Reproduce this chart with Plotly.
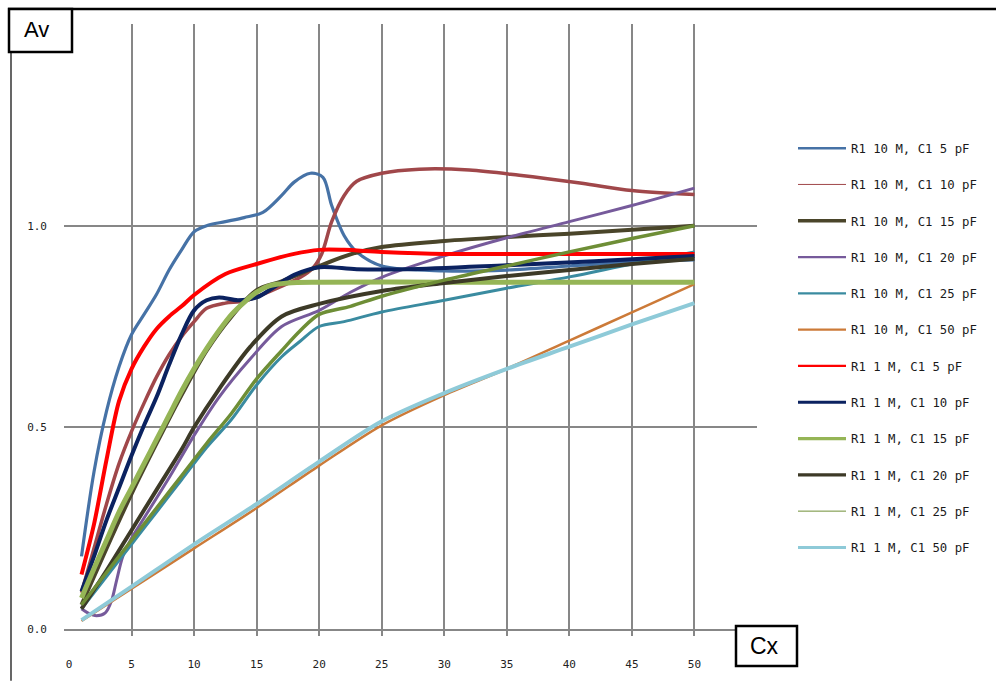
import plotly.graph_objects as go

# ---- measured gain Av versus Cx (pF) ----
names = [
    "R1 10 M, C1 5 pF", "R1 10 M, C1 10 pF", "R1 10 M, C1 15 pF",
    "R1 10 M, C1 20 pF", "R1 10 M, C1 25 pF", "R1 10 M, C1 50 pF",
    "R1 1 M, C1 5 pF", "R1 1 M, C1 10 pF", "R1 1 M, C1 15 pF",
    "R1 1 M, C1 20 pF", "R1 1 M, C1 25 pF", "R1 1 M, C1 50 pF",
]

x_10m_c5 = [1, 2, 3, 4, 5, 6, 7, 8, 9, 10, 11, 12.5, 14, 15.5, 17, 18, 19.3, 20.3, 21, 22, 23, 25, 30, 35, 40, 45, 50]
y_10m_c5 = [0.18, 0.39, 0.54, 0.65, 0.73, 0.78, 0.83, 0.89, 0.94, 0.985, 1.0, 1.01, 1.02, 1.033, 1.075, 1.108, 1.13, 1.12, 1.05, 0.975, 0.935, 0.9, 0.888, 0.89, 0.9, 0.91, 0.915]

x_10m_c10 = [1, 2, 3, 4, 5, 6, 7, 8, 9, 10, 11, 12.5, 14, 16.5, 18.5, 19.5, 20.2, 21, 22, 23, 25, 28, 32, 36, 41, 45, 50]
y_10m_c10 = [0.09, 0.2, 0.31, 0.41, 0.49, 0.56, 0.625, 0.68, 0.725, 0.762, 0.795, 0.808, 0.813, 0.843, 0.872, 0.895, 0.93, 1.01, 1.075, 1.11, 1.13, 1.14, 1.138, 1.125, 1.105, 1.087, 1.077]

x_10m_c15 = [1, 3, 5, 7, 9, 11, 13, 15, 17, 20, 22.5, 25, 30, 35, 40, 45, 50]
y_10m_c15 = [0.06, 0.2, 0.335, 0.46, 0.58, 0.69, 0.775, 0.84, 0.862, 0.9, 0.929, 0.947, 0.962, 0.972, 0.98, 0.99, 1.0]

x_10m_c20 = [1, 1.5, 2.2, 2.9, 3.4, 3.8, 4.3, 5, 6, 8, 10, 12, 14.5, 17, 20, 22.5, 25, 30, 35, 40, 45, 50]
y_10m_c20 = [0.05, 0.04, 0.033, 0.04, 0.07, 0.12, 0.18, 0.225, 0.275, 0.375, 0.48, 0.575, 0.67, 0.75, 0.79, 0.835, 0.872, 0.925, 0.97, 1.01, 1.05, 1.093]

x_10m_c25 = [1, 3, 5, 7, 9, 11, 13, 15, 17, 18.5, 20, 22, 25, 30, 35, 40, 45, 50]
y_10m_c25 = [0.05, 0.13, 0.21, 0.29, 0.37, 0.45, 0.52, 0.605, 0.675, 0.714, 0.75, 0.762, 0.786, 0.815, 0.845, 0.873, 0.905, 0.935]

x_10m_c50 = [1, 5, 10, 15, 20, 25, 30, 35, 40, 45, 50]
y_10m_c50 = [0.02, 0.1, 0.2, 0.3, 0.405, 0.505, 0.58, 0.645, 0.715, 0.785, 0.855]

x_1m_c5 = [1, 2, 3, 4, 5, 6, 7, 8, 9, 10, 12.5, 15, 18, 20, 22, 25, 30, 40, 50]
y_1m_c5 = [0.135, 0.26, 0.42, 0.565, 0.645, 0.70, 0.744, 0.775, 0.80, 0.828, 0.88, 0.905, 0.93, 0.94, 0.94, 0.935, 0.93, 0.93, 0.93]

x_1m_c10 = [1, 2, 3, 4, 5, 6, 7, 8, 9, 10, 11, 12, 13.5, 15, 16.5, 18, 20, 23, 27, 35, 42, 50]
y_1m_c10 = [0.093, 0.18, 0.27, 0.35, 0.43, 0.505, 0.575, 0.655, 0.73, 0.79, 0.815, 0.822, 0.815, 0.822, 0.85, 0.878, 0.897, 0.892, 0.892, 0.902, 0.912, 0.925]

x_1m_c15 = [1, 2, 3, 4, 5, 6, 7, 8, 9, 10, 11, 12, 13, 14, 15, 16, 17.5, 20, 30, 40, 50]
y_1m_c15 = [0.077, 0.15, 0.22, 0.29, 0.35, 0.41, 0.47, 0.53, 0.59, 0.645, 0.695, 0.74, 0.78, 0.81, 0.835, 0.851, 0.858, 0.86, 0.86, 0.86, 0.86]

x_1m_c20 = [1, 3, 5, 7, 9, 10, 12, 14.5, 17, 20, 25, 30, 35, 40, 45, 50]
y_1m_c20 = [0.05, 0.145, 0.245, 0.345, 0.445, 0.5, 0.595, 0.70, 0.775, 0.806, 0.838, 0.858, 0.875, 0.89, 0.905, 0.918]

x_1m_c25 = [1, 3, 5, 7, 9, 11, 13, 15, 17, 18.5, 20, 22.5, 25, 30, 35, 40, 45, 50]
y_1m_c25 = [0.06, 0.14, 0.22, 0.3, 0.38, 0.46, 0.535, 0.62, 0.69, 0.74, 0.78, 0.80, 0.825, 0.865, 0.9, 0.935, 0.968, 1.0]

x_1m_c50 = [1, 5, 10, 15, 20, 25, 30, 35, 40, 45, 50]
y_1m_c50 = [0.022, 0.105, 0.21, 0.31, 0.415, 0.515, 0.585, 0.645, 0.70, 0.755, 0.808]

xs = [x_10m_c5, x_10m_c10, x_10m_c15, x_10m_c20, x_10m_c25, x_10m_c50,
      x_1m_c5, x_1m_c10, x_1m_c15, x_1m_c20, x_1m_c25, x_1m_c50]
ys = [y_10m_c5, y_10m_c10, y_10m_c15, y_10m_c20, y_10m_c25, y_10m_c50,
      y_1m_c5, y_1m_c10, y_1m_c15, y_1m_c20, y_1m_c25, y_1m_c50]

colors = ["#4672A6", "#A0474A", "#4A452A", "#765A9B", "#3A8BA0", "#CC7A38",
          "#FF0000", "#0B2260", "#95B556", "#3D3A27", "#6E8E36", "#8ECAD8"]
widths = [3.2, 3.5, 4, 3, 3, 2.5, 4, 4, 5, 4, 3.5, 4]
key_widths = [2.5, 1, 3.3, 2.3, 2.3, 2.3, 2.3, 3, 3.3, 3.3, 1, 3]

x_tick_vals = [0, 5, 10, 15, 20, 25, 30, 35, 40, 45, 50]
x_tick_text = ["0", "5", "10", "15", "20", "25", "30", "35", "40", "45", "50"]
x_grid_vals = [5, 10, 15, 20, 25, 30, 35, 40, 45, 50, 55]
y_tick_vals = [0, 0.5, 1.0, 1.5]
y_tick_text = ["0.0", "0.5", "1.0", ""]

# ---- canvas geometry (pixels) ----
FIG_W, FIG_H = 996, 683
L, R, T, B = 64, 757, 24, 631


def px(x):
    return (x - L) / (R - L)


def py(y):
    return (B - y) / (B - T)


fig = go.Figure()
for i in range(len(names)):
    fig.add_trace(go.Scatter(
        x=xs[i], y=ys[i], mode="lines", name=names[i], showlegend=False,
        line=dict(color=colors[i], width=widths[i], shape="spline", smoothing=0.9),
        hoverinfo="skip",
    ))

# legend keys carry their own (thinner) stroke widths
for i in range(len(names)):
    fig.add_trace(go.Scatter(
        x=[None], y=[None], mode="lines", name=names[i], legendgroup=names[i],
        line=dict(color=colors[i], width=key_widths[i]), hoverinfo="skip",
    ))

grid_col = "#878787"
tick_font = dict(family="DejaVu Sans Mono", size=11, color="#222222")

fig.update_layout(
    width=FIG_W, height=FIG_H,
    margin=dict(l=L, r=FIG_W - R, t=T, b=FIG_H - B, pad=0),
    paper_bgcolor="white", plot_bgcolor="white",
    showlegend=True,
    legend=dict(
        x=px(793), y=py(134), xanchor="left", yanchor="top",
        font=dict(family="DejaVu Sans Mono", size=12.3, color="#1a1a1a"),
        bgcolor="rgba(0,0,0,0)", borderwidth=0,
        tracegroupgap=17.3, itemwidth=48,
    ),
    xaxis=dict(
        range=[-0.4, 55], tickmode="array", tickvals=x_tick_vals, ticktext=x_tick_text,
        ticks="", showgrid=False, zeroline=False,
        showline=True, linecolor=grid_col, linewidth=1.5,
        tickfont=tick_font, ticklabelstandoff=24,
        minor=dict(tickmode="array", tickvals=x_grid_vals, showgrid=True,
                   gridcolor=grid_col, gridwidth=1.5,
                   ticks="outside", ticklen=5, tickcolor=grid_col, tickwidth=1.5),
    ),
    yaxis=dict(
        range=[0, 1.5], tickmode="array", tickvals=y_tick_vals, ticktext=y_tick_text,
        ticks="", showgrid=True, gridcolor=grid_col, gridwidth=1.5,
        zeroline=False, showline=False,
        tickfont=tick_font, ticklabelstandoff=16,
    ),
)

# outer frame: heavy top rule and thin left rule
fig.add_shape(type="line", xref="paper", yref="paper", layer="above",
              x0=px(8), x1=px(996), y0=py(9), y1=py(9),
              line=dict(color="black", width=2.5))
fig.add_shape(type="line", xref="paper", yref="paper", layer="above",
              x0=px(11), x1=px(11), y0=py(9), y1=py(683),
              line=dict(color="black", width=1.2))

# boxed axis captions
fig.add_shape(type="rect", xref="paper", yref="paper", layer="above",
              x0=px(9), x1=px(72), y0=py(9), y1=py(52),
              fillcolor="white", line=dict(color="black", width=2.5))
fig.add_annotation(xref="paper", yref="paper", x=px(36), y=py(30),
                   xanchor="center", yanchor="middle",
                   text="Av", showarrow=False,
                   font=dict(family="Liberation Sans", size=22, color="black"))
fig.add_shape(type="rect", xref="paper", yref="paper", layer="above",
              x0=px(736), x1=px(797), y0=py(628), y1=py(668),
              fillcolor="white", line=dict(color="black", width=2.5))
fig.add_annotation(xref="paper", yref="paper", x=px(764), y=py(648),
                   xanchor="center", yanchor="middle",
                   text="Cx", showarrow=False,
                   font=dict(family="Liberation Sans", size=23, color="black"))

fig.write_html("out.html")
